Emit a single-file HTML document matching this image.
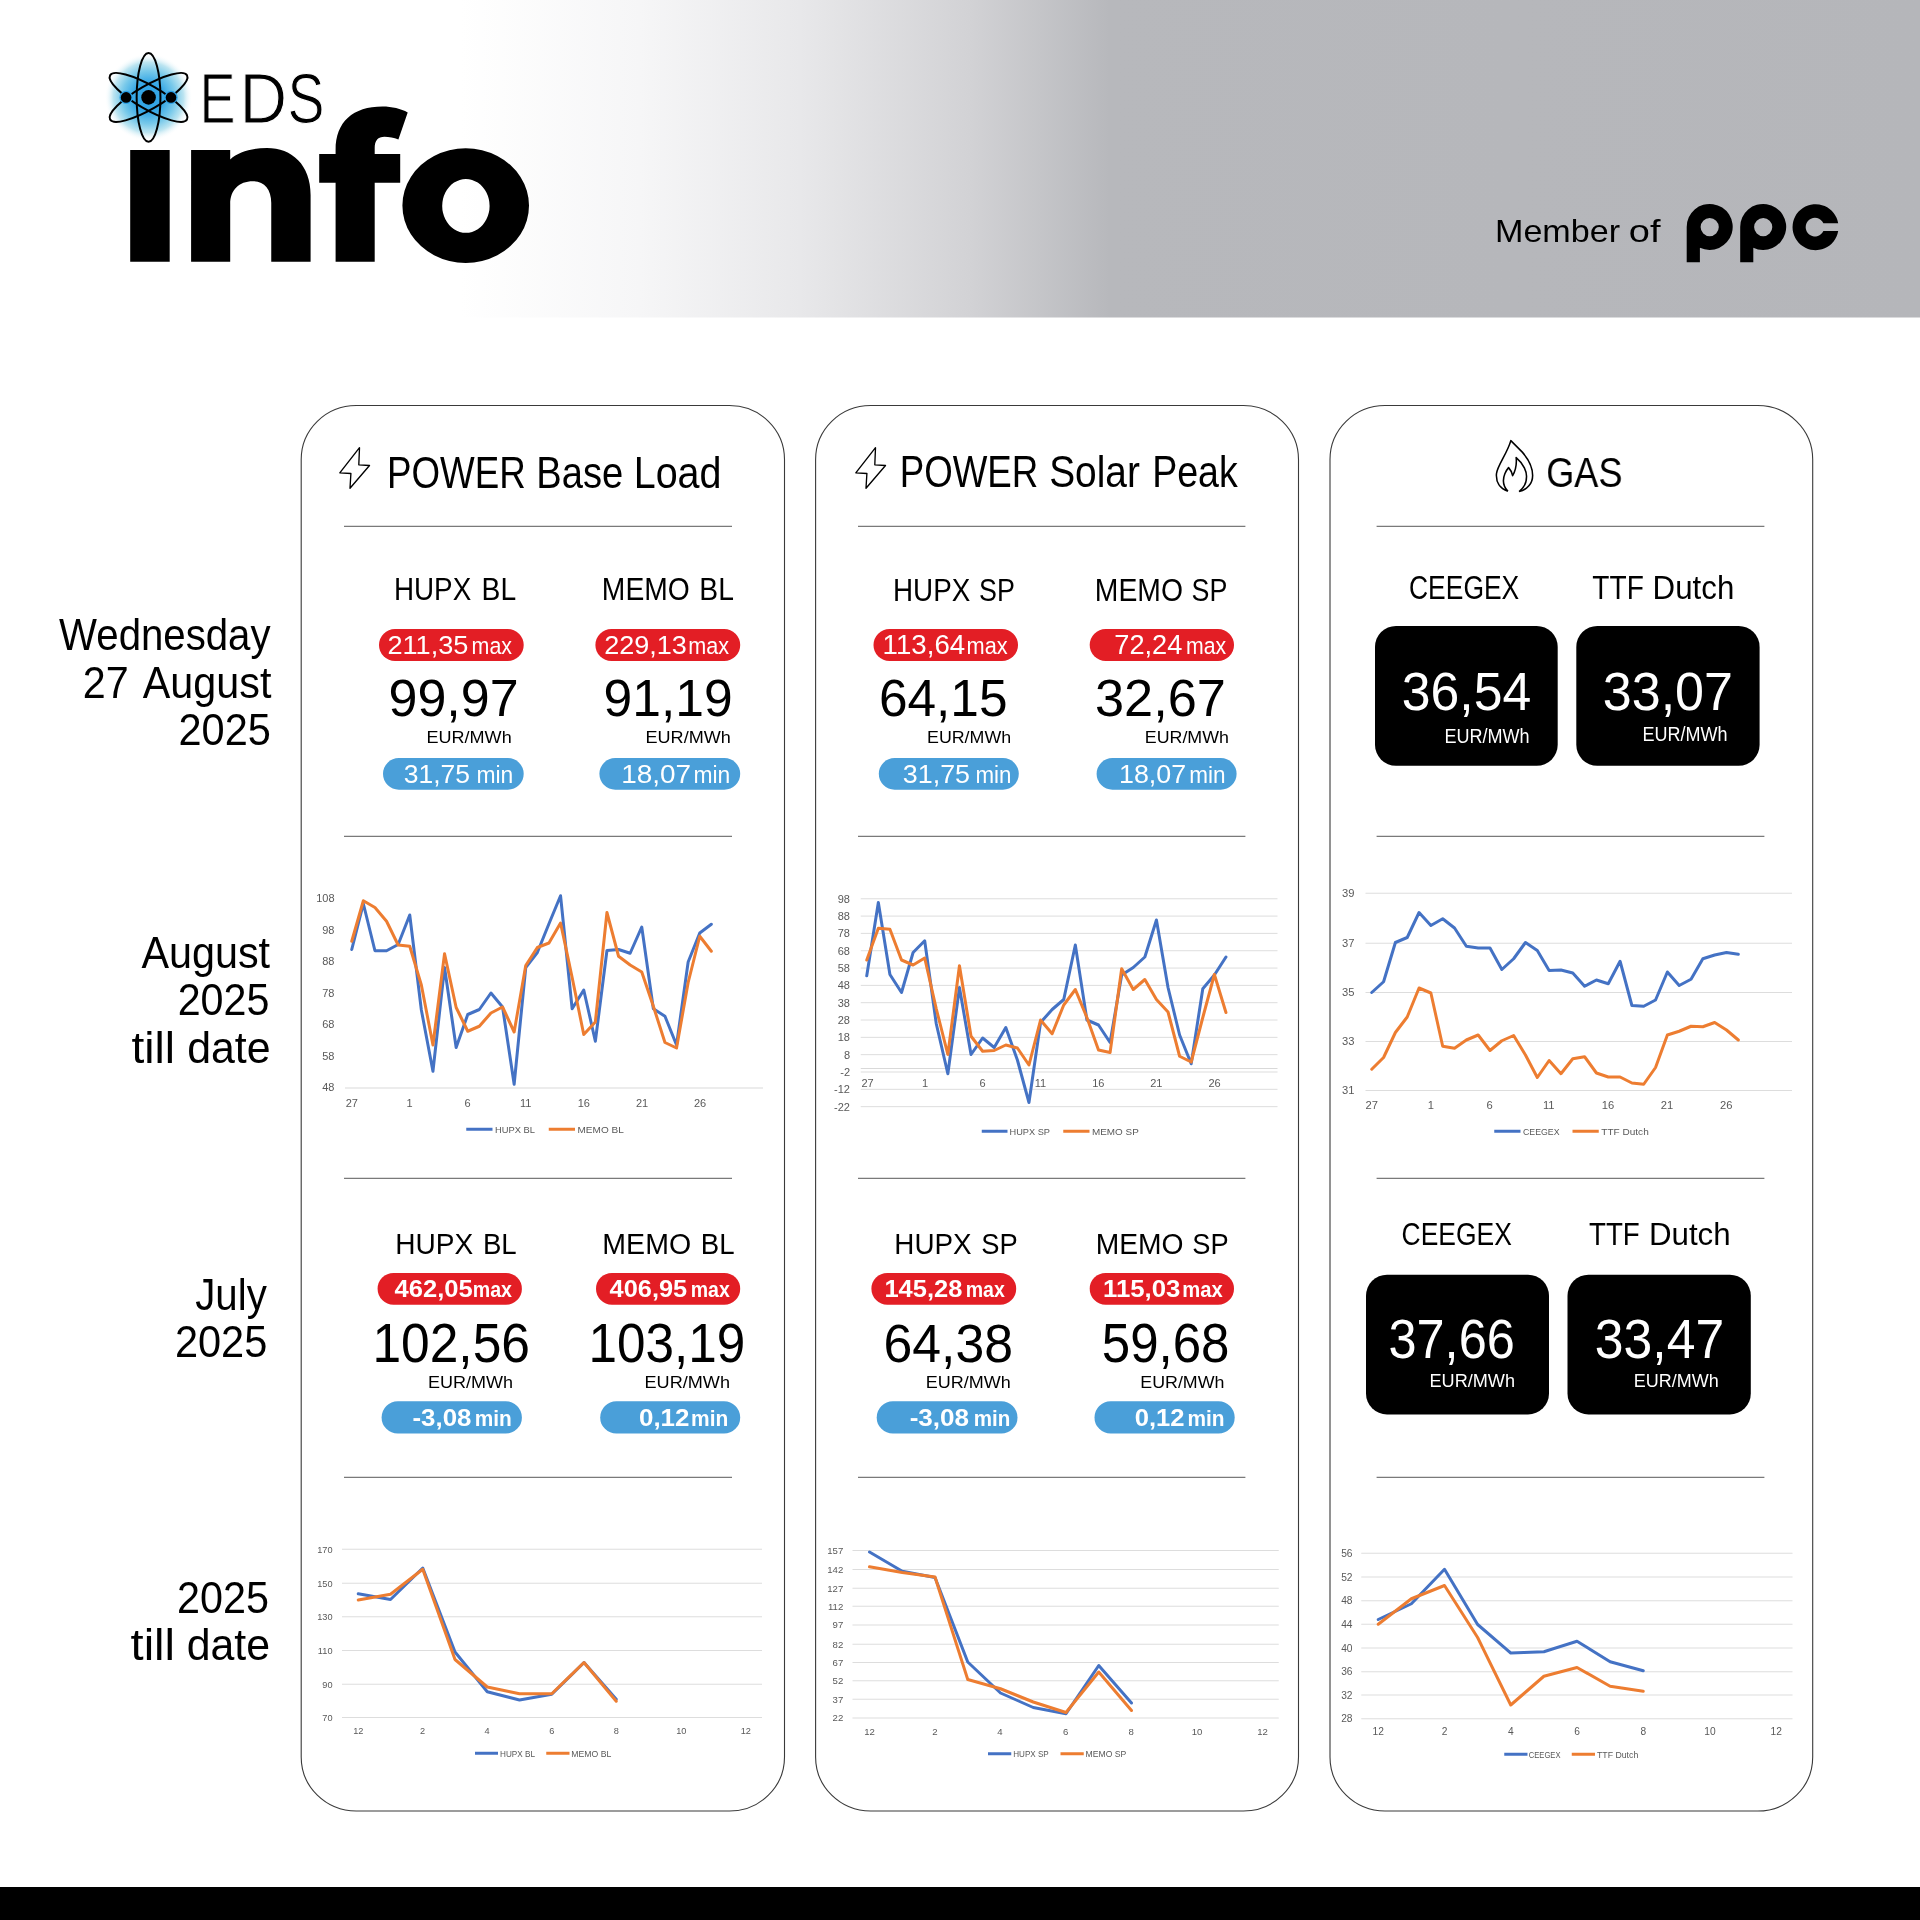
<!DOCTYPE html>
<html><head><meta charset="utf-8"><title>EDS info</title>
<style>html,body{margin:0;padding:0;background:#fff;width:1920px;height:1920px;overflow:hidden}
svg{display:block;font-family:"Liberation Sans",sans-serif;will-change:transform}</style></head>
<body><svg width="1920" height="1920" viewBox="0 0 1920 1920">
<defs><linearGradient id="hg" x1="0" y1="0" x2="1920" y2="0" gradientUnits="userSpaceOnUse"><stop offset="0.2396" stop-color="#ffffff"/><stop offset="0.3333" stop-color="#f6f6f7"/><stop offset="0.4167" stop-color="#e8e8ea"/><stop offset="0.5052" stop-color="#d2d2d5"/><stop offset="0.578" stop-color="#b7b8bc"/><stop offset="1" stop-color="#b5b6ba"/></linearGradient><radialGradient id="glow" cx="148.5" cy="97.4" r="44" gradientUnits="userSpaceOnUse"><stop offset="0" stop-color="#2ea3e6"/><stop offset="0.35" stop-color="#38a8e6"/><stop offset="0.6" stop-color="#78c9ea"/><stop offset="0.8" stop-color="#bde5f1"/><stop offset="1" stop-color="#ffffff" stop-opacity="0"/></radialGradient></defs>
<rect x="0.00" y="0.00" width="1920.00" height="317.50" rx="0" fill="url(#hg)"/>
<circle cx="148.55" cy="97.4" r="44" fill="url(#glow)"/>
<ellipse cx="148.55" cy="97.4" rx="11.9" ry="44.4" fill="none" stroke="#000" stroke-width="2" transform="rotate(0 148.55 97.4)"/>
<ellipse cx="148.55" cy="97.4" rx="11.9" ry="44.4" fill="none" stroke="#000" stroke-width="2" transform="rotate(60 148.55 97.4)"/>
<ellipse cx="148.55" cy="97.4" rx="11.9" ry="44.4" fill="none" stroke="#000" stroke-width="2" transform="rotate(-60 148.55 97.4)"/>
<circle cx="148.55" cy="97.4" r="7.3" fill="#000"/>
<circle cx="126.1" cy="97.4" r="6.6" fill="#2a9fe6"/>
<circle cx="126.1" cy="97.4" r="5.3" fill="#000"/>
<circle cx="171.0" cy="97.4" r="6.6" fill="#2a9fe6"/>
<circle cx="171.0" cy="97.4" r="5.3" fill="#000"/>
<text transform="translate(199.44 123.30) scale(0.7720 1)" font-size="69.96" fill="#000" stroke="#fff" stroke-width="1.1">E</text>
<text transform="translate(239.46 123.30) scale(0.9432 1)" font-size="69.96" fill="#000" stroke="#fff" stroke-width="1.1">D</text>
<text transform="translate(287.40 123.30) scale(0.7930 1)" font-size="69.96" fill="#000" stroke="#fff" stroke-width="1.1">S</text>
<path fill="#000" d="M130.2 150H169.7V261.7H130.2Z"/>
<path fill="#000" d="M191.1 261.7V150H230.2V159.4C238.5 152 251 148.1 266.9 148.1C292 148.1 310.6 165 310.6 195V261.7H271.25V203C271.25 189 264 181.25 252.8 181.25C239 181.25 230.2 190 230.2 204V261.7Z"/>
<path fill="#000" d="M335.6 261.7V182.8H319.2V154H335.6V150C335.6 122 353 106.6 382.5 106.6C392 106.6 401 108.8 407.7 112.4L398.4 139.4C394 137.6 389 136.7 384.5 136.7C378 136.7 374.7 140.5 374.7 148V154H400.2V182.8H374.7V261.7Z"/>
<path fill="#000" fill-rule="evenodd" d="M465.7 148.3A63.3 57.3 0 1 0 465.71 148.3ZM465.9 179A23.7 26.9 0 1 1 465.89 179Z"/>
<text transform="translate(1494.99 241.70) scale(1.0605 1)" font-size="32.15" fill="#000">Member</text>
<text transform="translate(1628.79 241.70) scale(1.1815 1)" font-size="32.15" fill="#000">of</text>
<path fill="#000" fill-rule="evenodd" d="M1686.7 226.9V262.3H1699.9V247.71A23 23 0 1 0 1686.7 226.9Z M1700.60 227.1a9.1 9.1 0 1 0 18.2 0a9.1 9.1 0 1 0 -18.2 0Z"/>
<path fill="#000" fill-rule="evenodd" d="M1740.2 226.9V262.3H1753.3V247.66A23 23 0 1 0 1740.2 226.9Z M1754.10 227.1a9.1 9.1 0 1 0 18.2 0a9.1 9.1 0 1 0 -18.2 0Z"/>
<path fill="#000" d="M1838.2 223.2A23 23 0 1 0 1838.2 231.1H1823.4A9.3 9.3 0 1 1 1823.4 223.2Z"/>
<rect x="301.2" y="405.5" width="483.30" height="1405.5" rx="55" ry="54" fill="none" stroke="#3a3a3a" stroke-width="1.1"/>
<rect x="815.6" y="405.5" width="482.90" height="1405.5" rx="55" ry="54" fill="none" stroke="#3a3a3a" stroke-width="1.1"/>
<rect x="1330" y="405.5" width="482.70" height="1405.5" rx="55" ry="54" fill="none" stroke="#3a3a3a" stroke-width="1.1"/>
<line x1="344.00" y1="526.30" x2="732.00" y2="526.30" stroke="#7a7a7a" stroke-width="1.2"/>
<line x1="344.00" y1="836.30" x2="732.00" y2="836.30" stroke="#7a7a7a" stroke-width="1.2"/>
<line x1="344.00" y1="1178.30" x2="732.00" y2="1178.30" stroke="#7a7a7a" stroke-width="1.2"/>
<line x1="344.00" y1="1477.30" x2="732.00" y2="1477.30" stroke="#7a7a7a" stroke-width="1.2"/>
<line x1="858.00" y1="526.30" x2="1245.40" y2="526.30" stroke="#7a7a7a" stroke-width="1.2"/>
<line x1="858.00" y1="836.30" x2="1245.40" y2="836.30" stroke="#7a7a7a" stroke-width="1.2"/>
<line x1="858.00" y1="1178.30" x2="1245.40" y2="1178.30" stroke="#7a7a7a" stroke-width="1.2"/>
<line x1="858.00" y1="1477.30" x2="1245.40" y2="1477.30" stroke="#7a7a7a" stroke-width="1.2"/>
<line x1="1376.60" y1="526.30" x2="1764.40" y2="526.30" stroke="#7a7a7a" stroke-width="1.2"/>
<line x1="1376.60" y1="836.30" x2="1764.40" y2="836.30" stroke="#7a7a7a" stroke-width="1.2"/>
<line x1="1376.60" y1="1178.30" x2="1764.40" y2="1178.30" stroke="#7a7a7a" stroke-width="1.2"/>
<line x1="1376.60" y1="1477.30" x2="1764.40" y2="1477.30" stroke="#7a7a7a" stroke-width="1.2"/>
<rect x="0.00" y="1887.00" width="1920.00" height="33.00" rx="0" fill="#000"/>
<text transform="translate(59.10 650.10) scale(0.9030 1)" font-size="44.51" fill="#000">Wednesday</text>
<text transform="translate(82.84 697.70) scale(0.9380 1)" font-size="44.01" fill="#000">27</text>
<text transform="translate(142.80 697.70) scale(0.9388 1)" font-size="44.01" fill="#000">August</text>
<text transform="translate(178.52 744.50) scale(0.9501 1)" font-size="43.73" fill="#000">2025</text>
<text transform="translate(141.40 968.40) scale(0.9261 1)" font-size="44.65" fill="#000">August</text>
<text transform="translate(177.64 1015.30) scale(0.9196 1)" font-size="44.87" fill="#000">2025</text>
<text transform="translate(131.41 1062.70) scale(1.0554 1)" font-size="43.72" fill="#000">till</text>
<text transform="translate(187.18 1062.70) scale(0.9806 1)" font-size="43.72" fill="#000">date</text>
<text transform="translate(195.20 1309.50) scale(0.9007 1)" font-size="44.73" fill="#000">July</text>
<text transform="translate(174.92 1356.90) scale(0.9259 1)" font-size="44.87" fill="#000">2025</text>
<text transform="translate(176.93 1612.60) scale(0.9246 1)" font-size="44.73" fill="#000">2025</text>
<text transform="translate(130.54 1660.00) scale(1.0745 1)" font-size="43.86" fill="#000">till</text>
<text transform="translate(186.68 1660.00) scale(0.9769 1)" font-size="43.86" fill="#000">date</text>
<path fill="none" stroke="#000" stroke-width="1.35" stroke-linejoin="round" d="M359.5 447.7L358.8 464.8L369.5 465.5L350 488.3L350.9 473.5L339.8 472.8Z"/>
<path fill="none" stroke="#000" stroke-width="1.35" stroke-linejoin="round" d="M875.5 447.7L874.8 464.8L885.5 465.5L866 488.3L866.9 473.5L855.8 472.8Z"/>
<g transform="translate(1490 435) scale(0.0323)"><path fill="none" stroke="#000" stroke-width="48" stroke-linejoin="round" d="M555 1740C300 1660 180 1450 200 1200C220 960 540 560 645 175L1000 530C1200 760 1320 1000 1320 1250C1320 1500 1150 1700 900 1750 M555 1740C420 1600 380 1400 460 1200C500 1100 540 1050 575 1010C640 1080 680 1150 700 1260C790 1100 830 900 810 700C1050 900 1140 1150 1130 1300C1130 1500 1030 1650 900 1750"/></g>
<text transform="translate(386.97 487.60) scale(0.8391 1)" font-size="43.78" fill="#000">POWER</text>
<text transform="translate(536.36 487.60) scale(0.8701 1)" font-size="43.78" fill="#000">Base</text>
<text transform="translate(633.74 487.60) scale(0.9015 1)" font-size="43.78" fill="#000">Load</text>
<text transform="translate(899.72 487.40) scale(0.8438 1)" font-size="43.49" fill="#000">POWER</text>
<text transform="translate(1049.15 487.40) scale(0.8945 1)" font-size="43.49" fill="#000">Solar</text>
<text transform="translate(1152.20 487.40) scale(0.8632 1)" font-size="43.49" fill="#000">Peak</text>
<text transform="translate(1546.20 487.00) scale(0.8553 1)" font-size="42.18" fill="#000">GAS</text>
<text transform="translate(393.91 599.80) scale(0.9020 1)" font-size="30.84" fill="#000">HUPX</text>
<text transform="translate(481.57 599.80) scale(0.9165 1)" font-size="30.84" fill="#000">BL</text>
<text transform="translate(601.87 599.80) scale(0.9163 1)" font-size="30.84" fill="#000">MEMO</text>
<text transform="translate(699.37 599.80) scale(0.9165 1)" font-size="30.84" fill="#000">BL</text>
<rect x="379.00" y="629.00" width="144.70" height="32.00" rx="16.0" fill="#e31e25"/>
<rect x="595.40" y="629.00" width="144.80" height="32.00" rx="16.0" fill="#e31e25"/>
<text transform="translate(387.44 653.50) scale(1.0245 1)" font-size="26.52" fill="#fff">211,35</text>
<text transform="translate(471.55 653.50) scale(0.9046 1)" font-size="23.70" fill="#fff">max</text>
<text transform="translate(604.15 653.50) scale(1.0198 1)" font-size="26.52" fill="#fff">229,13</text>
<text transform="translate(688.24 653.50) scale(0.9116 1)" font-size="23.70" fill="#fff">max</text>
<text transform="translate(388.53 716.00) scale(0.9932 1)" font-size="52.33" fill="#000">99,97</text>
<text transform="translate(603.55 716.00) scale(0.9864 1)" font-size="52.33" fill="#000">91,19</text>
<text transform="translate(426.51 742.70) scale(1.0424 1)" font-size="17.31" fill="#000">EUR/MWh</text>
<text transform="translate(645.51 742.70) scale(1.0436 1)" font-size="17.31" fill="#000">EUR/MWh</text>
<rect x="383.00" y="758.00" width="140.70" height="31.70" rx="15.850000000000023" fill="#4a9fd9"/>
<rect x="599.40" y="758.00" width="140.80" height="31.70" rx="15.850000000000023" fill="#4a9fd9"/>
<text transform="translate(403.71 782.60) scale(1.0218 1)" font-size="25.95" fill="#fff">31,75</text>
<text transform="translate(476.46 782.60) scale(0.9245 1)" font-size="24.74" fill="#fff">min</text>
<text transform="translate(621.21 782.60) scale(1.0608 1)" font-size="26.33" fill="#fff">18,07</text>
<text transform="translate(693.46 782.60) scale(0.9245 1)" font-size="24.74" fill="#fff">min</text>
<text transform="translate(893.01 601.00) scale(0.9105 1)" font-size="30.55" fill="#000">HUPX</text>
<text transform="translate(979.09 601.00) scale(0.8783 1)" font-size="30.55" fill="#000">SP</text>
<text transform="translate(1094.86 601.00) scale(0.9272 1)" font-size="30.55" fill="#000">MEMO</text>
<text transform="translate(1191.59 601.00) scale(0.8783 1)" font-size="30.55" fill="#000">SP</text>
<rect x="873.50" y="629.00" width="144.50" height="32.00" rx="16.0" fill="#e31e25"/>
<rect x="1089.70" y="629.00" width="144.30" height="32.00" rx="16.0" fill="#e31e25"/>
<text transform="translate(882.62 653.50) scale(1.0284 1)" font-size="26.91" fill="#fff">113,64</text>
<text transform="translate(966.53 653.50) scale(0.9186 1)" font-size="23.70" fill="#fff">max</text>
<text transform="translate(1114.27 653.50) scale(1.0109 1)" font-size="26.91" fill="#fff">72,24</text>
<text transform="translate(1186.06 653.50) scale(0.8976 1)" font-size="23.70" fill="#fff">max</text>
<text transform="translate(878.93 716.00) scale(0.9822 1)" font-size="52.33" fill="#000">64,15</text>
<text transform="translate(1095.04 716.00) scale(0.9994 1)" font-size="52.33" fill="#000">32,67</text>
<text transform="translate(927.03 742.70) scale(1.0297 1)" font-size="17.31" fill="#000">EUR/MWh</text>
<text transform="translate(1144.83 742.70) scale(1.0297 1)" font-size="17.31" fill="#000">EUR/MWh</text>
<rect x="878.80" y="758.00" width="140.00" height="31.70" rx="15.850000000000023" fill="#4a9fd9"/>
<rect x="1096.60" y="758.00" width="140.00" height="31.70" rx="15.850000000000023" fill="#4a9fd9"/>
<text transform="translate(902.79 782.60) scale(1.0361 1)" font-size="25.95" fill="#fff">31,75</text>
<text transform="translate(975.49 782.60) scale(0.9026 1)" font-size="24.74" fill="#fff">min</text>
<text transform="translate(1118.99 782.60) scale(1.0193 1)" font-size="26.33" fill="#fff">18,07</text>
<text transform="translate(1189.18 782.60) scale(0.9108 1)" font-size="24.74" fill="#fff">min</text>
<text transform="translate(1408.98 599.30) scale(0.7811 1)" font-size="33.89" fill="#000">CEEGEX</text>
<text transform="translate(1592.37 599.30) scale(0.8285 1)" font-size="33.89" fill="#000">TTF</text>
<text transform="translate(1652.62 599.30) scale(0.9226 1)" font-size="33.89" fill="#000">Dutch</text>
<rect x="1375.00" y="625.90" width="182.70" height="139.90" rx="21" fill="#000"/>
<rect x="1576.30" y="625.90" width="183.30" height="139.90" rx="21" fill="#000"/>
<text transform="translate(1401.76 710.00) scale(0.9726 1)" font-size="53.19" fill="#fff">36,54</text>
<text transform="translate(1444.51 742.70) scale(0.8797 1)" font-size="20.51" fill="#fff">EUR/MWh</text>
<text transform="translate(1602.75 710.00) scale(0.9786 1)" font-size="53.19" fill="#fff">33,07</text>
<text transform="translate(1642.51 741.00) scale(0.9043 1)" font-size="19.93" fill="#fff">EUR/MWh</text>
<text transform="translate(395.28 1253.50) scale(0.9415 1)" font-size="29.82" fill="#000">HUPX</text>
<text transform="translate(482.92 1253.50) scale(0.9266 1)" font-size="29.82" fill="#000">BL</text>
<text transform="translate(602.35 1253.50) scale(0.9566 1)" font-size="29.82" fill="#000">MEMO</text>
<text transform="translate(700.72 1253.50) scale(0.9266 1)" font-size="29.82" fill="#000">BL</text>
<rect x="377.60" y="1272.90" width="144.30" height="31.85" rx="15.924999999999955" fill="#e31e25"/>
<rect x="596.00" y="1272.90" width="144.20" height="31.85" rx="15.924999999999955" fill="#e31e25"/>
<text transform="translate(394.52 1296.80) scale(1.0988 1)" font-size="23.27" font-weight="bold" fill="#fff">462,05</text>
<text transform="translate(472.73 1296.80) scale(0.9155 1)" font-size="21.42" font-weight="bold" fill="#fff">max</text>
<text transform="translate(609.62 1296.80) scale(1.0903 1)" font-size="23.27" font-weight="bold" fill="#fff">406,95</text>
<text transform="translate(690.63 1296.80) scale(0.9130 1)" font-size="21.42" font-weight="bold" fill="#fff">max</text>
<text transform="translate(372.44 1361.90) scale(0.9341 1)" font-size="55.13" fill="#000">102,56</text>
<text transform="translate(588.45 1361.90) scale(0.9300 1)" font-size="55.13" fill="#000">103,19</text>
<text transform="translate(427.91 1388.40) scale(1.0411 1)" font-size="17.31" fill="#000">EUR/MWh</text>
<text transform="translate(644.51 1388.40) scale(1.0462 1)" font-size="17.31" fill="#000">EUR/MWh</text>
<rect x="381.60" y="1401.20" width="140.30" height="32.40" rx="16.199999999999932" fill="#4a9fd9"/>
<rect x="600.20" y="1401.20" width="140.00" height="32.40" rx="16.199999999999932" fill="#4a9fd9"/>
<text transform="translate(412.47 1425.50) scale(1.0934 1)" font-size="23.66" font-weight="bold" fill="#fff">-3,08</text>
<text transform="translate(474.64 1425.50) scale(0.9591 1)" font-size="21.77" font-weight="bold" fill="#fff">min</text>
<text transform="translate(638.96 1425.50) scale(1.0971 1)" font-size="23.66" font-weight="bold" fill="#fff">0,12</text>
<text transform="translate(691.04 1425.50) scale(0.9619 1)" font-size="21.77" font-weight="bold" fill="#fff">min</text>
<text transform="translate(894.31 1253.50) scale(0.9328 1)" font-size="29.82" fill="#000">HUPX</text>
<text transform="translate(981.17 1253.50) scale(0.9160 1)" font-size="29.82" fill="#000">SP</text>
<text transform="translate(1095.67 1253.50) scale(0.9476 1)" font-size="29.82" fill="#000">MEMO</text>
<text transform="translate(1192.37 1253.50) scale(0.9133 1)" font-size="29.82" fill="#000">SP</text>
<rect x="871.40" y="1272.90" width="144.80" height="31.85" rx="15.924999999999955" fill="#e31e25"/>
<rect x="1089.70" y="1272.90" width="144.30" height="31.85" rx="15.924999999999955" fill="#e31e25"/>
<text transform="translate(884.40 1296.80) scale(1.0970 1)" font-size="23.27" font-weight="bold" fill="#fff">145,28</text>
<text transform="translate(965.73 1296.80) scale(0.9130 1)" font-size="21.42" font-weight="bold" fill="#fff">max</text>
<text transform="translate(1102.99 1296.80) scale(1.1079 1)" font-size="23.27" font-weight="bold" fill="#fff">115,03</text>
<text transform="translate(1182.18 1296.80) scale(0.9445 1)" font-size="21.42" font-weight="bold" fill="#fff">max</text>
<text transform="translate(883.41 1361.90) scale(0.9530 1)" font-size="54.34" fill="#000">64,38</text>
<text transform="translate(1101.76 1361.90) scale(0.9257 1)" font-size="55.13" fill="#000">59,68</text>
<text transform="translate(925.72 1388.40) scale(1.0399 1)" font-size="17.31" fill="#000">EUR/MWh</text>
<text transform="translate(1140.33 1388.40) scale(1.0297 1)" font-size="17.31" fill="#000">EUR/MWh</text>
<rect x="876.70" y="1401.20" width="140.80" height="32.40" rx="16.199999999999932" fill="#4a9fd9"/>
<rect x="1094.50" y="1401.20" width="140.20" height="32.40" rx="16.199999999999932" fill="#4a9fd9"/>
<text transform="translate(909.66 1425.50) scale(1.1030 1)" font-size="23.66" font-weight="bold" fill="#fff">-3,08</text>
<text transform="translate(973.66 1425.50) scale(0.9452 1)" font-size="21.77" font-weight="bold" fill="#fff">min</text>
<text transform="translate(1134.67 1425.50) scale(1.0835 1)" font-size="23.66" font-weight="bold" fill="#fff">0,12</text>
<text transform="translate(1187.44 1425.50) scale(0.9591 1)" font-size="21.77" font-weight="bold" fill="#fff">min</text>
<text transform="translate(1401.58 1244.50) scale(0.8227 1)" font-size="32.15" fill="#000">CEEGEX</text>
<text transform="translate(1588.98 1244.50) scale(0.8630 1)" font-size="32.15" fill="#000">TTF</text>
<text transform="translate(1648.92 1244.50) scale(0.9727 1)" font-size="32.15" fill="#000">Dutch</text>
<rect x="1366.00" y="1274.70" width="183.00" height="139.70" rx="21" fill="#000"/>
<rect x="1567.50" y="1274.70" width="183.30" height="139.70" rx="21" fill="#000"/>
<text transform="translate(1388.51 1357.90) scale(0.8953 1)" font-size="56.34" fill="#fff">37,66</text>
<text transform="translate(1429.50 1387.00) scale(0.9443 1)" font-size="19.20" fill="#fff">EUR/MWh</text>
<text transform="translate(1594.86 1357.90) scale(0.9172 1)" font-size="56.34" fill="#fff">33,47</text>
<text transform="translate(1633.82 1387.00) scale(0.9374 1)" font-size="19.20" fill="#fff">EUR/MWh</text>
<line x1="345.00" y1="1088.00" x2="763.00" y2="1088.00" stroke="#d9d9d9" stroke-width="1.1"/>
<text x="334.50" y="901.90" font-size="11.0" fill="#595959" text-anchor="end">108</text>
<text x="334.50" y="933.90" font-size="11.0" fill="#595959" text-anchor="end">98</text>
<text x="334.50" y="965.15" font-size="11.0" fill="#595959" text-anchor="end">88</text>
<text x="334.50" y="996.90" font-size="11.0" fill="#595959" text-anchor="end">78</text>
<text x="334.50" y="1028.40" font-size="11.0" fill="#595959" text-anchor="end">68</text>
<text x="334.50" y="1060.15" font-size="11.0" fill="#595959" text-anchor="end">58</text>
<text x="334.50" y="1091.40" font-size="11.0" fill="#595959" text-anchor="end">48</text>
<text x="351.75" y="1106.90" font-size="11.0" fill="#595959" text-anchor="middle">27</text>
<text x="409.50" y="1106.90" font-size="11.0" fill="#595959" text-anchor="middle">1</text>
<text x="467.50" y="1106.90" font-size="11.0" fill="#595959" text-anchor="middle">6</text>
<text x="525.75" y="1106.90" font-size="11.0" fill="#595959" text-anchor="middle">11</text>
<text x="583.75" y="1106.90" font-size="11.0" fill="#595959" text-anchor="middle">16</text>
<text x="642.00" y="1106.90" font-size="11.0" fill="#595959" text-anchor="middle">21</text>
<text x="700.00" y="1106.90" font-size="11.0" fill="#595959" text-anchor="middle">26</text>
<line x1="466.25" y1="1129.25" x2="492.50" y2="1129.25" stroke="#4472c4" stroke-width="3"/>
<text x="495.00" y="1132.55" font-size="9.6" fill="#595959" textLength="40.00" lengthAdjust="spacingAndGlyphs">HUPX BL</text>
<line x1="548.75" y1="1129.25" x2="575.00" y2="1129.25" stroke="#ed7d31" stroke-width="3"/>
<text x="577.50" y="1132.55" font-size="9.6" fill="#595959" textLength="46.25" lengthAdjust="spacingAndGlyphs">MEMO BL</text>
<polyline points="351.75,949.50 363.35,903.75 374.95,950.75 386.55,950.75 398.15,944.50 409.75,915.00 421.35,1010.00 432.95,1071.25 444.55,967.50 456.15,1047.50 467.75,1014.50 479.35,1009.50 490.95,993.00 502.55,1007.00 514.15,1084.25 525.75,967.50 537.35,952.50 548.95,923.75 560.55,895.75 572.15,1008.75 583.75,990.00 595.35,1041.25 606.95,950.50 618.55,949.50 630.15,953.25 641.75,927.00 653.35,1008.75 664.95,1016.25 676.55,1045.00 688.15,962.00 699.75,933.00 711.35,924.25" fill="none" stroke="#4472c4" stroke-width="3" stroke-linejoin="round" stroke-linecap="round"/>
<polyline points="351.75,941.25 363.35,900.75 374.95,907.50 386.55,921.25 398.15,945.00 409.75,946.25 421.35,985.00 432.95,1045.00 444.55,953.75 456.15,1007.50 467.75,1031.25 479.35,1026.25 490.95,1013.00 502.55,1007.00 514.15,1032.00 525.75,965.50 537.35,947.50 548.95,943.00 560.55,923.00 572.15,977.50 583.75,1034.50 595.35,1022.00 606.95,912.50 618.55,956.25 630.15,965.00 641.75,972.00 653.35,1006.25 664.95,1042.50 676.55,1048.00 688.15,982.50 699.75,936.25 711.35,951.25" fill="none" stroke="#ed7d31" stroke-width="3" stroke-linejoin="round" stroke-linecap="round"/>
<line x1="860.75" y1="898.75" x2="1277.50" y2="898.75" stroke="#d9d9d9" stroke-width="0.9"/>
<line x1="860.75" y1="916.08" x2="1277.50" y2="916.08" stroke="#d9d9d9" stroke-width="0.9"/>
<line x1="860.75" y1="933.40" x2="1277.50" y2="933.40" stroke="#d9d9d9" stroke-width="0.9"/>
<line x1="860.75" y1="950.73" x2="1277.50" y2="950.73" stroke="#d9d9d9" stroke-width="0.9"/>
<line x1="860.75" y1="968.05" x2="1277.50" y2="968.05" stroke="#d9d9d9" stroke-width="0.9"/>
<line x1="860.75" y1="985.38" x2="1277.50" y2="985.38" stroke="#d9d9d9" stroke-width="0.9"/>
<line x1="860.75" y1="1002.70" x2="1277.50" y2="1002.70" stroke="#d9d9d9" stroke-width="0.9"/>
<line x1="860.75" y1="1020.02" x2="1277.50" y2="1020.02" stroke="#d9d9d9" stroke-width="0.9"/>
<line x1="860.75" y1="1037.35" x2="1277.50" y2="1037.35" stroke="#d9d9d9" stroke-width="0.9"/>
<line x1="860.75" y1="1054.67" x2="1277.50" y2="1054.67" stroke="#d9d9d9" stroke-width="0.9"/>
<line x1="860.75" y1="1072.00" x2="1277.50" y2="1072.00" stroke="#d9d9d9" stroke-width="0.9"/>
<line x1="860.75" y1="1089.33" x2="1277.50" y2="1089.33" stroke="#d9d9d9" stroke-width="0.9"/>
<line x1="860.75" y1="1106.65" x2="1277.50" y2="1106.65" stroke="#d9d9d9" stroke-width="0.9"/>
<line x1="860.75" y1="1068.50" x2="1277.50" y2="1068.50" stroke="#d9d9d9" stroke-width="1.1"/>
<text x="850.00" y="902.65" font-size="11.0" fill="#595959" text-anchor="end">98</text>
<text x="850.00" y="919.98" font-size="11.0" fill="#595959" text-anchor="end">88</text>
<text x="850.00" y="937.30" font-size="11.0" fill="#595959" text-anchor="end">78</text>
<text x="850.00" y="954.63" font-size="11.0" fill="#595959" text-anchor="end">68</text>
<text x="850.00" y="971.95" font-size="11.0" fill="#595959" text-anchor="end">58</text>
<text x="850.00" y="989.28" font-size="11.0" fill="#595959" text-anchor="end">48</text>
<text x="850.00" y="1006.61" font-size="11.0" fill="#595959" text-anchor="end">38</text>
<text x="850.00" y="1023.93" font-size="11.0" fill="#595959" text-anchor="end">28</text>
<text x="850.00" y="1041.25" font-size="11.0" fill="#595959" text-anchor="end">18</text>
<text x="850.00" y="1058.58" font-size="11.0" fill="#595959" text-anchor="end">8</text>
<text x="850.00" y="1075.90" font-size="11.0" fill="#595959" text-anchor="end">-2</text>
<text x="850.00" y="1093.23" font-size="11.0" fill="#595959" text-anchor="end">-12</text>
<text x="850.00" y="1110.56" font-size="11.0" fill="#595959" text-anchor="end">-22</text>
<text x="867.50" y="1087.15" font-size="11.0" fill="#595959" text-anchor="middle">27</text>
<text x="925.00" y="1087.15" font-size="11.0" fill="#595959" text-anchor="middle">1</text>
<text x="982.50" y="1087.15" font-size="11.0" fill="#595959" text-anchor="middle">6</text>
<text x="1040.50" y="1087.15" font-size="11.0" fill="#595959" text-anchor="middle">11</text>
<text x="1098.25" y="1087.15" font-size="11.0" fill="#595959" text-anchor="middle">16</text>
<text x="1156.25" y="1087.15" font-size="11.0" fill="#595959" text-anchor="middle">21</text>
<text x="1214.50" y="1087.15" font-size="11.0" fill="#595959" text-anchor="middle">26</text>
<line x1="981.75" y1="1131.25" x2="1007.50" y2="1131.25" stroke="#4472c4" stroke-width="3"/>
<text x="1009.50" y="1134.55" font-size="9.6" fill="#595959" textLength="40.50" lengthAdjust="spacingAndGlyphs">HUPX SP</text>
<line x1="1063.25" y1="1131.25" x2="1089.50" y2="1131.25" stroke="#ed7d31" stroke-width="3"/>
<text x="1092.00" y="1134.55" font-size="9.6" fill="#595959" textLength="46.75" lengthAdjust="spacingAndGlyphs">MEMO SP</text>
<polyline points="866.75,975.75 878.34,902.50 889.92,974.50 901.51,992.50 913.10,952.50 924.69,940.75 936.27,1023.75 947.86,1073.75 959.45,987.50 971.04,1054.50 982.62,1038.00 994.21,1047.50 1005.80,1027.50 1017.39,1060.00 1028.97,1102.50 1040.56,1022.50 1052.15,1009.50 1063.74,999.50 1075.33,945.00 1086.91,1020.00 1098.50,1025.00 1110.09,1042.50 1121.67,975.00 1133.26,967.50 1144.85,957.00 1156.44,920.00 1168.03,987.50 1179.61,1035.00 1191.20,1063.75 1202.79,988.75 1214.38,975.00 1225.96,957.00" fill="none" stroke="#4472c4" stroke-width="3" stroke-linejoin="round" stroke-linecap="round"/>
<polyline points="866.75,960.00 878.34,928.25 889.92,929.25 901.51,960.00 913.10,965.00 924.69,958.00 936.27,1008.75 947.86,1054.50 959.45,965.75 971.04,1036.25 982.62,1051.25 994.21,1050.50 1005.80,1045.00 1017.39,1048.00 1028.97,1065.00 1040.56,1020.00 1052.15,1033.75 1063.74,1005.00 1075.33,989.50 1086.91,1017.50 1098.50,1050.00 1110.09,1052.50 1121.67,968.75 1133.26,989.50 1144.85,979.50 1156.44,999.50 1168.03,1012.00 1179.61,1056.25 1191.20,1062.00 1202.79,1017.50 1214.38,974.50 1225.96,1012.50" fill="none" stroke="#ed7d31" stroke-width="3" stroke-linejoin="round" stroke-linecap="round"/>
<line x1="1365.50" y1="893.25" x2="1792.00" y2="893.25" stroke="#d9d9d9" stroke-width="0.9"/>
<line x1="1365.50" y1="943.25" x2="1792.00" y2="943.25" stroke="#d9d9d9" stroke-width="0.9"/>
<line x1="1365.50" y1="992.50" x2="1792.00" y2="992.50" stroke="#d9d9d9" stroke-width="0.9"/>
<line x1="1365.50" y1="1041.50" x2="1792.00" y2="1041.50" stroke="#d9d9d9" stroke-width="0.9"/>
<line x1="1365.50" y1="1090.50" x2="1792.00" y2="1090.50" stroke="#d9d9d9" stroke-width="0.9"/>
<text x="1354.50" y="897.23" font-size="11.2" fill="#595959" text-anchor="end">39</text>
<text x="1354.50" y="947.23" font-size="11.2" fill="#595959" text-anchor="end">37</text>
<text x="1354.50" y="996.48" font-size="11.2" fill="#595959" text-anchor="end">35</text>
<text x="1354.50" y="1045.48" font-size="11.2" fill="#595959" text-anchor="end">33</text>
<text x="1354.50" y="1094.48" font-size="11.2" fill="#595959" text-anchor="end">31</text>
<text x="1371.75" y="1108.98" font-size="11.2" fill="#595959" text-anchor="middle">27</text>
<text x="1430.75" y="1108.98" font-size="11.2" fill="#595959" text-anchor="middle">1</text>
<text x="1489.50" y="1108.98" font-size="11.2" fill="#595959" text-anchor="middle">6</text>
<text x="1548.75" y="1108.98" font-size="11.2" fill="#595959" text-anchor="middle">11</text>
<text x="1608.00" y="1108.98" font-size="11.2" fill="#595959" text-anchor="middle">16</text>
<text x="1667.00" y="1108.98" font-size="11.2" fill="#595959" text-anchor="middle">21</text>
<text x="1726.25" y="1108.98" font-size="11.2" fill="#595959" text-anchor="middle">26</text>
<line x1="1494.25" y1="1131.25" x2="1520.50" y2="1131.25" stroke="#4472c4" stroke-width="3"/>
<text x="1523.00" y="1134.55" font-size="9.6" fill="#595959" textLength="36.50" lengthAdjust="spacingAndGlyphs">CEEGEX</text>
<line x1="1572.50" y1="1131.25" x2="1598.75" y2="1131.25" stroke="#ed7d31" stroke-width="3"/>
<text x="1601.25" y="1134.55" font-size="9.6" fill="#595959" textLength="47.50" lengthAdjust="spacingAndGlyphs">TTF Dutch</text>
<polyline points="1371.75,992.50 1383.58,981.75 1395.40,942.50 1407.22,937.50 1419.05,912.50 1430.88,925.50 1442.70,918.75 1454.53,928.00 1466.35,946.25 1478.17,948.00 1490.00,948.00 1501.83,969.50 1513.65,958.75 1525.47,942.50 1537.30,950.50 1549.12,970.50 1560.95,970.00 1572.78,973.00 1584.60,986.25 1596.42,980.00 1608.25,983.75 1620.08,961.25 1631.90,1005.50 1643.72,1006.25 1655.55,1000.00 1667.38,972.00 1679.20,985.50 1691.03,979.25 1702.85,958.75 1714.67,955.00 1726.50,952.50 1738.33,954.25" fill="none" stroke="#4472c4" stroke-width="3" stroke-linejoin="round" stroke-linecap="round"/>
<polyline points="1371.75,1069.25 1383.58,1057.50 1395.40,1032.50 1407.22,1017.00 1419.05,988.00 1430.88,993.00 1442.70,1046.25 1454.53,1048.25 1466.35,1040.00 1478.17,1035.00 1490.00,1050.50 1501.83,1040.75 1513.65,1035.50 1525.47,1055.00 1537.30,1077.50 1549.12,1060.50 1560.95,1073.75 1572.78,1058.75 1584.60,1056.75 1596.42,1073.00 1608.25,1077.00 1620.08,1077.00 1631.90,1083.00 1643.72,1084.25 1655.55,1067.50 1667.38,1035.00 1679.20,1031.25 1691.03,1026.25 1702.85,1026.75 1714.67,1022.50 1726.50,1030.00 1738.33,1040.00" fill="none" stroke="#ed7d31" stroke-width="3" stroke-linejoin="round" stroke-linecap="round"/>
<line x1="342.00" y1="1549.25" x2="762.00" y2="1549.25" stroke="#d9d9d9" stroke-width="0.9"/>
<line x1="342.00" y1="1583.25" x2="762.00" y2="1583.25" stroke="#d9d9d9" stroke-width="0.9"/>
<line x1="342.00" y1="1616.75" x2="762.00" y2="1616.75" stroke="#d9d9d9" stroke-width="0.9"/>
<line x1="342.00" y1="1650.50" x2="762.00" y2="1650.50" stroke="#d9d9d9" stroke-width="0.9"/>
<line x1="342.00" y1="1684.25" x2="762.00" y2="1684.25" stroke="#d9d9d9" stroke-width="0.9"/>
<line x1="342.00" y1="1717.50" x2="762.00" y2="1717.50" stroke="#d9d9d9" stroke-width="0.9"/>
<text x="332.50" y="1552.52" font-size="9.2" fill="#595959" text-anchor="end">170</text>
<text x="332.50" y="1586.52" font-size="9.2" fill="#595959" text-anchor="end">150</text>
<text x="332.50" y="1620.02" font-size="9.2" fill="#595959" text-anchor="end">130</text>
<text x="332.50" y="1653.77" font-size="9.2" fill="#595959" text-anchor="end">110</text>
<text x="332.50" y="1687.52" font-size="9.2" fill="#595959" text-anchor="end">90</text>
<text x="332.50" y="1720.77" font-size="9.2" fill="#595959" text-anchor="end">70</text>
<text x="358.25" y="1734.02" font-size="9.2" fill="#595959" text-anchor="middle">12</text>
<text x="422.50" y="1734.02" font-size="9.2" fill="#595959" text-anchor="middle">2</text>
<text x="487.00" y="1734.02" font-size="9.2" fill="#595959" text-anchor="middle">4</text>
<text x="551.75" y="1734.02" font-size="9.2" fill="#595959" text-anchor="middle">6</text>
<text x="616.25" y="1734.02" font-size="9.2" fill="#595959" text-anchor="middle">8</text>
<text x="681.25" y="1734.02" font-size="9.2" fill="#595959" text-anchor="middle">10</text>
<text x="745.75" y="1734.02" font-size="9.2" fill="#595959" text-anchor="middle">12</text>
<line x1="475.00" y1="1753.25" x2="498.00" y2="1753.25" stroke="#4472c4" stroke-width="3"/>
<text x="500.00" y="1756.55" font-size="9" fill="#595959" textLength="35.00" lengthAdjust="spacingAndGlyphs">HUPX BL</text>
<line x1="546.25" y1="1753.25" x2="569.50" y2="1753.25" stroke="#ed7d31" stroke-width="3"/>
<text x="571.25" y="1756.55" font-size="9" fill="#595959" textLength="40.00" lengthAdjust="spacingAndGlyphs">MEMO BL</text>
<polyline points="358.25,1593.75 390.50,1599.50 422.75,1568.00 455.00,1652.00 487.25,1691.75 519.50,1700.00 551.75,1694.25 584.00,1662.50 616.25,1699.25" fill="none" stroke="#4472c4" stroke-width="3" stroke-linejoin="round" stroke-linecap="round"/>
<polyline points="358.25,1600.00 390.50,1594.25 422.75,1569.25 455.00,1659.50 487.25,1687.00 519.50,1693.75 551.75,1693.75 584.00,1662.50 616.25,1701.25" fill="none" stroke="#ed7d31" stroke-width="3" stroke-linejoin="round" stroke-linecap="round"/>
<line x1="852.50" y1="1550.50" x2="1278.75" y2="1550.50" stroke="#d9d9d9" stroke-width="0.9"/>
<line x1="852.50" y1="1569.50" x2="1278.75" y2="1569.50" stroke="#d9d9d9" stroke-width="0.9"/>
<line x1="852.50" y1="1588.25" x2="1278.75" y2="1588.25" stroke="#d9d9d9" stroke-width="0.9"/>
<line x1="852.50" y1="1606.25" x2="1278.75" y2="1606.25" stroke="#d9d9d9" stroke-width="0.9"/>
<line x1="852.50" y1="1625.00" x2="1278.75" y2="1625.00" stroke="#d9d9d9" stroke-width="0.9"/>
<line x1="852.50" y1="1644.25" x2="1278.75" y2="1644.25" stroke="#d9d9d9" stroke-width="0.9"/>
<line x1="852.50" y1="1662.50" x2="1278.75" y2="1662.50" stroke="#d9d9d9" stroke-width="0.9"/>
<line x1="852.50" y1="1680.75" x2="1278.75" y2="1680.75" stroke="#d9d9d9" stroke-width="0.9"/>
<line x1="852.50" y1="1699.25" x2="1278.75" y2="1699.25" stroke="#d9d9d9" stroke-width="0.9"/>
<line x1="852.50" y1="1718.00" x2="1278.75" y2="1718.00" stroke="#d9d9d9" stroke-width="0.9"/>
<text x="843.25" y="1553.91" font-size="9.6" fill="#595959" text-anchor="end">157</text>
<text x="843.25" y="1572.91" font-size="9.6" fill="#595959" text-anchor="end">142</text>
<text x="843.25" y="1591.66" font-size="9.6" fill="#595959" text-anchor="end">127</text>
<text x="843.25" y="1609.66" font-size="9.6" fill="#595959" text-anchor="end">112</text>
<text x="843.25" y="1628.41" font-size="9.6" fill="#595959" text-anchor="end">97</text>
<text x="843.25" y="1647.66" font-size="9.6" fill="#595959" text-anchor="end">82</text>
<text x="843.25" y="1665.91" font-size="9.6" fill="#595959" text-anchor="end">67</text>
<text x="843.25" y="1684.16" font-size="9.6" fill="#595959" text-anchor="end">52</text>
<text x="843.25" y="1702.66" font-size="9.6" fill="#595959" text-anchor="end">37</text>
<text x="843.25" y="1721.41" font-size="9.6" fill="#595959" text-anchor="end">22</text>
<text x="869.50" y="1734.66" font-size="9.6" fill="#595959" text-anchor="middle">12</text>
<text x="935.00" y="1734.66" font-size="9.6" fill="#595959" text-anchor="middle">2</text>
<text x="1000.00" y="1734.66" font-size="9.6" fill="#595959" text-anchor="middle">4</text>
<text x="1065.75" y="1734.66" font-size="9.6" fill="#595959" text-anchor="middle">6</text>
<text x="1131.25" y="1734.66" font-size="9.6" fill="#595959" text-anchor="middle">8</text>
<text x="1197.00" y="1734.66" font-size="9.6" fill="#595959" text-anchor="middle">10</text>
<text x="1262.50" y="1734.66" font-size="9.6" fill="#595959" text-anchor="middle">12</text>
<line x1="988.00" y1="1753.75" x2="1011.25" y2="1753.75" stroke="#4472c4" stroke-width="3"/>
<text x="1013.25" y="1757.05" font-size="9" fill="#595959" textLength="35.50" lengthAdjust="spacingAndGlyphs">HUPX SP</text>
<line x1="1060.50" y1="1753.75" x2="1083.75" y2="1753.75" stroke="#ed7d31" stroke-width="3"/>
<text x="1085.50" y="1757.05" font-size="9" fill="#595959" textLength="40.75" lengthAdjust="spacingAndGlyphs">MEMO SP</text>
<polyline points="869.50,1552.00 902.25,1571.25 935.00,1577.50 967.75,1662.00 1000.50,1693.00 1033.25,1707.50 1066.00,1713.75 1098.75,1665.50 1131.50,1703.00" fill="none" stroke="#4472c4" stroke-width="3" stroke-linejoin="round" stroke-linecap="round"/>
<polyline points="869.50,1566.75 902.25,1572.50 935.00,1577.00 967.75,1679.50 1000.50,1688.75 1033.25,1702.00 1066.00,1712.50 1098.75,1672.00 1131.50,1710.50" fill="none" stroke="#ed7d31" stroke-width="3" stroke-linejoin="round" stroke-linecap="round"/>
<line x1="1361.25" y1="1553.25" x2="1792.50" y2="1553.25" stroke="#d9d9d9" stroke-width="0.9"/>
<line x1="1361.25" y1="1577.00" x2="1792.50" y2="1577.00" stroke="#d9d9d9" stroke-width="0.9"/>
<line x1="1361.25" y1="1600.75" x2="1792.50" y2="1600.75" stroke="#d9d9d9" stroke-width="0.9"/>
<line x1="1361.25" y1="1624.25" x2="1792.50" y2="1624.25" stroke="#d9d9d9" stroke-width="0.9"/>
<line x1="1361.25" y1="1648.00" x2="1792.50" y2="1648.00" stroke="#d9d9d9" stroke-width="0.9"/>
<line x1="1361.25" y1="1671.75" x2="1792.50" y2="1671.75" stroke="#d9d9d9" stroke-width="0.9"/>
<line x1="1361.25" y1="1695.00" x2="1792.50" y2="1695.00" stroke="#d9d9d9" stroke-width="0.9"/>
<line x1="1361.25" y1="1718.75" x2="1792.50" y2="1718.75" stroke="#d9d9d9" stroke-width="0.9"/>
<text x="1352.50" y="1556.87" font-size="10.2" fill="#595959" text-anchor="end">56</text>
<text x="1352.50" y="1580.62" font-size="10.2" fill="#595959" text-anchor="end">52</text>
<text x="1352.50" y="1604.37" font-size="10.2" fill="#595959" text-anchor="end">48</text>
<text x="1352.50" y="1627.87" font-size="10.2" fill="#595959" text-anchor="end">44</text>
<text x="1352.50" y="1651.62" font-size="10.2" fill="#595959" text-anchor="end">40</text>
<text x="1352.50" y="1675.37" font-size="10.2" fill="#595959" text-anchor="end">36</text>
<text x="1352.50" y="1698.62" font-size="10.2" fill="#595959" text-anchor="end">32</text>
<text x="1352.50" y="1722.37" font-size="10.2" fill="#595959" text-anchor="end">28</text>
<text x="1378.25" y="1735.37" font-size="10.2" fill="#595959" text-anchor="middle">12</text>
<text x="1444.50" y="1735.37" font-size="10.2" fill="#595959" text-anchor="middle">2</text>
<text x="1510.75" y="1735.37" font-size="10.2" fill="#595959" text-anchor="middle">4</text>
<text x="1577.00" y="1735.37" font-size="10.2" fill="#595959" text-anchor="middle">6</text>
<text x="1643.25" y="1735.37" font-size="10.2" fill="#595959" text-anchor="middle">8</text>
<text x="1710.00" y="1735.37" font-size="10.2" fill="#595959" text-anchor="middle">10</text>
<text x="1776.25" y="1735.37" font-size="10.2" fill="#595959" text-anchor="middle">12</text>
<line x1="1504.25" y1="1754.25" x2="1527.50" y2="1754.25" stroke="#4472c4" stroke-width="3"/>
<text x="1528.75" y="1757.55" font-size="9" fill="#595959" textLength="31.75" lengthAdjust="spacingAndGlyphs">CEEGEX</text>
<line x1="1571.75" y1="1754.25" x2="1595.00" y2="1754.25" stroke="#ed7d31" stroke-width="3"/>
<text x="1597.00" y="1757.55" font-size="9" fill="#595959" textLength="41.25" lengthAdjust="spacingAndGlyphs">TTF Dutch</text>
<polyline points="1378.25,1619.50 1411.38,1603.75 1444.50,1569.25 1477.62,1624.50 1510.75,1653.00 1543.88,1651.75 1577.00,1641.25 1610.12,1661.75 1643.25,1670.75" fill="none" stroke="#4472c4" stroke-width="3" stroke-linejoin="round" stroke-linecap="round"/>
<polyline points="1378.25,1624.25 1411.38,1598.75 1444.50,1585.50 1477.62,1637.50 1510.75,1705.00 1543.88,1676.25 1577.00,1667.50 1610.12,1686.25 1643.25,1691.25" fill="none" stroke="#ed7d31" stroke-width="3" stroke-linejoin="round" stroke-linecap="round"/>
</svg></body></html>
